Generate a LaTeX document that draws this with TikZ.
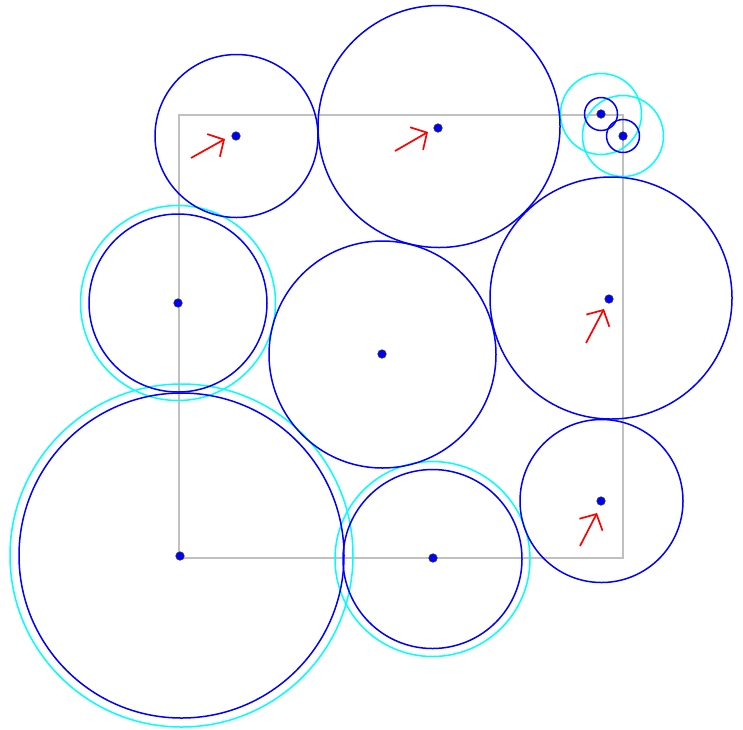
\documentclass[tikz,border=0pt]{standalone}
\usetikzlibrary{arrows.meta}
\definecolor{pcyan}{RGB}{0,255,255}
\definecolor{pblue}{RGB}{0,0,255}
\definecolor{pred}{RGB}{255,0,0}
\definecolor{pgray}{RGB}{192,192,192}
\begin{document}
\begin{tikzpicture}[x=1pt,y=-1pt,
  bcirc/.style={draw=pblue,line width=1.5pt},
  ccirc/.style={draw=pcyan,line width=1.5pt},
  sqline/.style={draw=pgray,line width=1.8pt},
  dotc/.style={circle,fill=pblue,draw=black!80,line width=0.6pt,inner sep=0pt,minimum size=8.5pt},
  redarr/.style={draw=pred,line width=1.7pt,-{Straight Barb[length=12pt,width=26pt,line width=1.7pt]}}]
\useasboundingbox (0,0) rectangle (743,729);
% square
\coordinate (s1) at (179,115);
\coordinate (s2) at (623,115);
\coordinate (s3) at (623,558);
\coordinate (s4) at (179,558);
\draw[sqline] (s1) -- (s2) -- (s3) -- (s4) -- cycle;
% centers
\coordinate (a) at (236.5,136);
\coordinate (b) at (439,126.5);
\coordinate (c) at (601,114);
\coordinate (d) at (623,136);
\coordinate (e) at (178,303);
\coordinate (f) at (382.5,354.5);
\coordinate (g) at (611,298);
\coordinate (h) at (601.5,501);
\coordinate (i) at (181.5,555.5);
\coordinate (j) at (432.5,559);
% cyan circles
\draw[ccirc] (c) circle (40.5);
\draw[ccirc] (d) circle (40.5);
\draw[ccirc] (e) circle (97.5);
\draw[ccirc] (i) circle (171.5);
\draw[ccirc] (j) circle (97.5);
% blue circles
\draw[bcirc] (a) circle (81.5);
\draw[bcirc] (b) circle (121);
\draw[bcirc] (c) circle (16.5);
\draw[bcirc] (d) circle (16.5);
\draw[bcirc] (e) circle (89);
\draw[bcirc] (f) circle (113.5);
\draw[bcirc] (g) circle (121);
\draw[bcirc] (h) circle (81.5);
\draw[bcirc] (i) circle (162.5);
\draw[bcirc] (j) circle (89.5);
% dots
\node[dotc] (da) at (236,136) {};
\node[dotc] (db) at (438,128) {};
\node[dotc] (dc) at (601,114) {};
\node[dotc] (dd) at (623,136) {};
\node[dotc] (de) at (178,303) {};
\node[dotc] (df) at (382,354) {};
\node[dotc] (dg) at (609,299) {};
\node[dotc] (dh) at (601,501) {};
\node[dotc] (di) at (180,556) {};
\node[dotc] (dj) at (433,558) {};
% red arrows
\coordinate (t1) at (191,158); \coordinate (h1) at (225,139);
\coordinate (t2) at (395,151); \coordinate (h2) at (428,132);
\coordinate (t3) at (586,343); \coordinate (h3) at (604,309);
\coordinate (t4) at (580,546); \coordinate (h4) at (597,513);
\draw[redarr] (t1) -- (h1);
\draw[redarr] (t2) -- (h2);
\draw[redarr] (t3) -- (h3);
\draw[redarr] (t4) -- (h4);
\end{tikzpicture}
\end{document}
